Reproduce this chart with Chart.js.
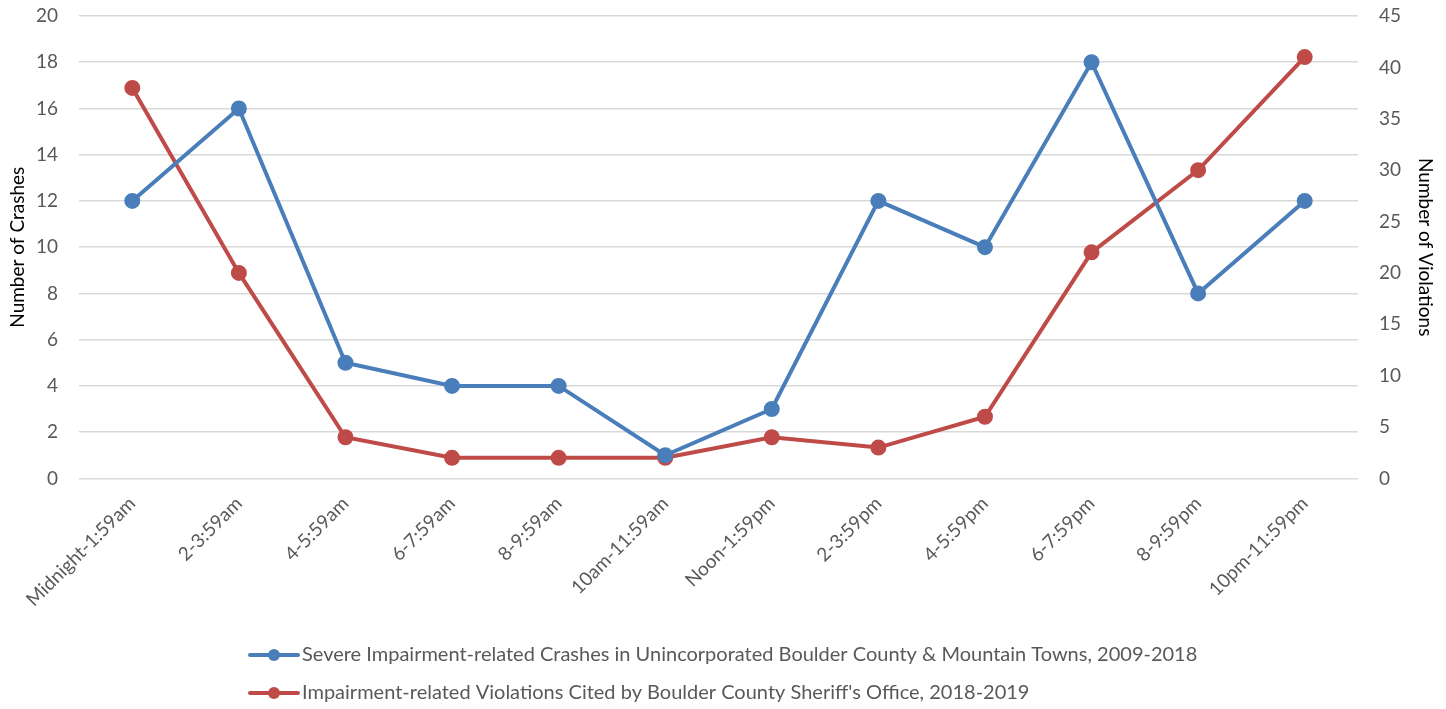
<!DOCTYPE html>
<html><head><meta charset="utf-8">
<script src="https://cdn.jsdelivr.net/npm/chart.js@4.4.1/dist/chart.umd.min.js"></script>
<style>html,body{margin:0;padding:0;background:#fff}#wrap{width:1446px;height:709px}</style>
</head><body><div id="wrap"><canvas id="c" width="1446" height="709"></canvas></div>
<script>
const categories = ["Midnight-1:59am","2-3:59am","4-5:59am","6-7:59am","8-9:59am","10am-11:59am","Noon-1:59pm","2-3:59pm","4-5:59pm","6-7:59pm","8-9:59pm","10pm-11:59pm"];
const crashes = [12,16,5,4,4,1,3,12,10,18,8,12];
const violations = [38,20,4,2,2,2,4,3,6,22,30,41];
const crashLabel = "Severe Impairment-related Crashes in Unincorporated Boulder County & Mountain Towns, 2009-2018";
const violLabel = "Impairment-related Violations Cited by Boulder County Sheriff's Office, 2018-2019";
const blue = "#4a7ebb", red = "#be4b48";
const FONT = "Lato, 'Open Sans', sans-serif";

const customLegend = {
  id: 'customLegend',
  afterDraw(chart){
    const ctx = chart.ctx;
    const ds = chart.data.datasets;
    ctx.save();
    ctx.font = "20px " + FONT;
    const iconW = 52, gap = 2;
    const widths = ds.map(d => ctx.measureText(d.label).width);
    const blockW = iconW + gap + Math.max(...widths);
    const x0 = Math.round((chart.width - blockW) / 2);
    const rows = [655, 693];
    ds.forEach((d, i) => {
      const y = rows[i];
      ctx.strokeStyle = d.borderColor; ctx.lineWidth = 4; ctx.lineCap = 'round';
      ctx.beginPath(); ctx.moveTo(x0 + 2, y); ctx.lineTo(x0 + iconW - 2, y); ctx.stroke();
      ctx.fillStyle = d.borderColor; ctx.beginPath(); ctx.arc(x0 + iconW/2, y, 6, 0, Math.PI*2); ctx.fill();
      ctx.fillStyle = '#595959'; ctx.textBaseline = 'middle'; ctx.textAlign = 'left';
      ctx.fillText(d.label, x0 + iconW + gap, y);
    });
    ctx.restore();
  }
};

new Chart(document.getElementById('c'), {
  type: 'line',
  data: {
    labels: categories,
    datasets: [
      {label: crashLabel, data: crashes, borderColor: blue, backgroundColor: blue, borderWidth: 4, pointRadius: 6, pointHoverRadius: 6, yAxisID: 'y'},
      {label: violLabel, data: violations, borderColor: red, backgroundColor: red, borderWidth: 4, pointRadius: 6, pointHoverRadius: 6, yAxisID: 'y1'}
    ]
  },
  plugins: [customLegend],
  options: {
    responsive: false, animation: false,
    layout: {padding: {left: 4, right: 4, top: 0, bottom: 92}},
    plugins: {
      tooltip: {enabled: false},
      legend: {display: false}
    },
    scales: {
      x: {
        offset: true,
        grid: {display: false},
        border: {display: false},
        ticks: {color: '#595959', font: {family: FONT, size: 19}, maxRotation: 45, minRotation: 45, autoSkip: false, padding: 6}
      },
      y: {
        position: 'left', min: 0, max: 20,
        afterFit(s){ s.width = 75; s.paddingTop = 16; s.paddingBottom = 12; },
        ticks: {stepSize: 2, color: '#595959', font: {family: FONT, size: 19}, padding: 21},
        grid: {color: '#d9d9d9', lineWidth: 1.5, drawTicks: false},
        border: {display: false},
        title: {display: true, text: 'Number of Crashes', color: '#000', font: {family: FONT, size: 19}, padding: {top: 2, bottom: 2}}
      },
      y1: {
        position: 'right', min: 0, max: 45,
        afterFit(s){ s.width = 84; s.paddingTop = 16; s.paddingBottom = 12; },
        ticks: {stepSize: 5, color: '#595959', font: {family: FONT, size: 19}, padding: 21},
        grid: {display: false, drawTicks: false},
        border: {display: false},
        title: {display: true, text: 'Number of Violations', color: '#000', font: {family: FONT, size: 19}, padding: {top: 5, bottom: 2}}
      }
    }
  }
});
</script></body></html>
